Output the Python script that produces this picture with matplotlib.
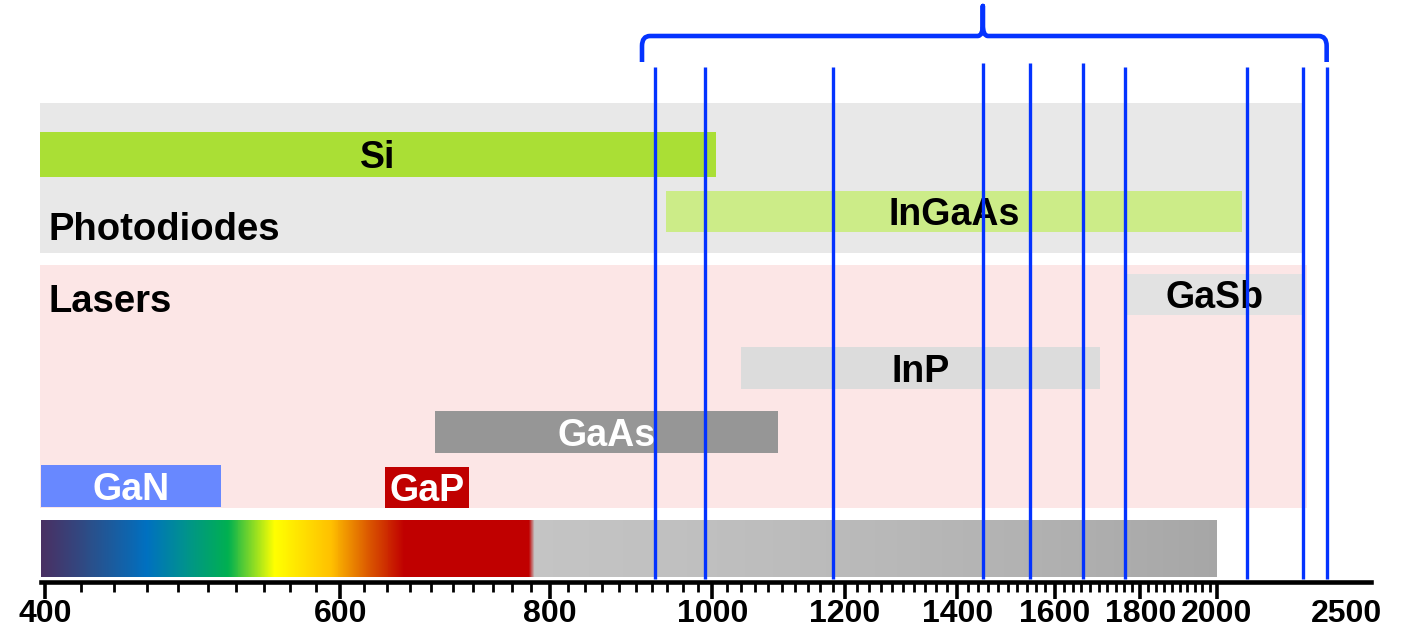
import numpy as np
import matplotlib
matplotlib.use('Agg')
from matplotlib import pyplot as plt
from matplotlib.path import Path
from matplotlib.patches import PathPatch
from matplotlib.colors import LinearSegmentedColormap, Normalize
from matplotlib.ticker import FixedLocator, NullFormatter

# photodiode materials (nm)
pd_names = ['Si', 'InGaAs']
pd_start = [397, 938]
pd_end = [1005, 2069]

# laser materials (nm)
laser_names = ['GaSb', 'InP', 'GaAs', 'GaN', 'GaP']
laser_start = [1765, 1040, 683, 398, 638]
laser_end = [2250, 1703, 1094, 509, 716]

# group backgrounds (nm)
pd_region = [397, 2256]
laser_region = [397, 2262]

# marked wavelengths (nm)
line_nm = [924, 990, 1180, 1450, 1547, 1663, 1762, 2083, 2250, 2325]

# axis
tick_major = [400, 600, 800, 1000, 1200, 1400, 1600, 1800, 2000]
tick_minor = [v for v in range(420, 2000, 20) if v not in tick_major]
axis_end = 2470
last_label = '2500'

# spectrum colour stops (nm, colour)
spec_nm = [398, 426, 460, 484, 514, 548, 592, 626, 655, 777, 783, 2000]
spec_col = ['#4a2f62', '#2a4f8a', '#0070c0', '#00918f', '#00b050', '#ffff00',
            '#ffc000', '#d85000', '#c00000', '#c00000', '#c4c4c4', '#a6a6a6']

# ---- layout (y in pixels from top) ----
pd_row = {'Si': (132, 177), 'InGaAs': (191, 232)}
laser_row = {'GaSb': (274, 315), 'InP': (347, 389), 'GaAs': (411, 453),
             'GaN': (465, 507), 'GaP': (467, 508)}
colors = {'Si': '#aadf35', 'InGaAs': '#ccec88', 'GaSb': '#e2e2e2',
          'InP': '#dcdcdc', 'GaAs': '#969696', 'GaN': '#6888ff', 'GaP': '#c00000'}
text_col = {'Si': 'black', 'InGaAs': 'black', 'GaSb': 'black', 'InP': 'black',
            'GaAs': 'white', 'GaN': 'white', 'GaP': 'white'}
line_top = [67, 67, 67, 63, 63, 63, 67, 67, 67, 67]
blue = '#0433ff'

plt.rcParams['font.family'] = 'Liberation Sans'
plt.rcParams['font.weight'] = 'bold'

fig = plt.figure(figsize=(14.03, 6.36), dpi=100)
ax = fig.add_axes([0, 0, 1, 1])
ax.set_xscale('log')
ax.set_xlim(376, 2582)
ax.set_ylim(636, 0)


def hbar(start, end, top, bottom, color, z):
    ax.barh((top + bottom) / 2, end - start, left=start, height=bottom - top,
            color=color, linewidth=0, zorder=z)


# backgrounds
hbar(pd_region[0], pd_region[1], 103, 253, '#e8e8e8', 0)
hbar(laser_region[0], laser_region[1], 265, 508, '#fce6e6', 0)

ax.text(401.7, 240, 'Photodiodes', fontsize=27.5, ha='left', va='baseline', zorder=2)
ax.text(401.7, 312, 'Lasers', fontsize=27.5, ha='left', va='baseline', zorder=2)

names = pd_names + laser_names
starts = pd_start + laser_start
ends = pd_end + laser_end
rows = {**pd_row, **laser_row}
for name, s, e in zip(names, starts, ends):
    top, bottom = rows[name]
    hbar(s, e, top, bottom, colors[name], 1)
    ax.text(np.sqrt(s * e), (top + bottom) / 2 + 13.5, name, fontsize=27,
            color=text_col[name], ha='center', va='baseline', zorder=2)

# spectrum strip
edges = np.geomspace(spec_nm[0], spec_nm[-1], 1200)
mids = np.sqrt(edges[:-1] * edges[1:])
norm = Normalize(spec_nm[0], spec_nm[-1])
cmap = LinearSegmentedColormap.from_list(
    'spec', [((v - spec_nm[0]) / (spec_nm[-1] - spec_nm[0]), c) for v, c in zip(spec_nm, spec_col)],
    N=8192)
ax.pcolormesh(edges, [520, 577], mids[None, :], cmap=cmap, norm=norm,
              shading='flat', antialiased=False, zorder=1)

# blue marker lines
ax.vlines(line_nm, line_top, 579, color=blue, linewidth=2.4, zorder=3)

# brace over the lines
left, right, tip = 908, line_nm[-1], line_nm[3]
k, k2 = 1.011, 1.007
verts = [(left, 62), (left, 46), (left, 36), (left * k, 36),
         (tip / k2, 36), (tip, 36), (tip, 24), (tip, 6),
         (tip, 24), (tip, 36), (tip * k2, 36),
         (right / k, 36), (right, 36), (right, 46), (right, 62)]
codes = [Path.MOVETO, Path.LINETO, Path.CURVE3, Path.CURVE3,
         Path.LINETO, Path.CURVE3, Path.CURVE3, Path.LINETO,
         Path.LINETO, Path.CURVE3, Path.CURVE3,
         Path.LINETO, Path.CURVE3, Path.CURVE3, Path.LINETO]
ax.add_patch(PathPatch(Path(verts, codes), facecolor='none', edgecolor=blue,
                       linewidth=3.3, capstyle='butt', joinstyle='round', zorder=3))

# wavelength axis
for side in ['top', 'left', 'right']:
    ax.spines[side].set_visible(False)
ax.spines['bottom'].set_position(('data', 582))
ax.spines['bottom'].set_bounds(398, axis_end)
ax.spines['bottom'].set_linewidth(3.3)
ax.xaxis.set_major_locator(FixedLocator(tick_major))
ax.xaxis.set_major_formatter(lambda v, pos: '%d' % v)
ax.xaxis.set_minor_locator(FixedLocator(tick_minor))
ax.xaxis.set_minor_formatter(NullFormatter())
ax.tick_params(axis='x', which='major', direction='out', length=12, width=2.6,
               pad=0.5, labelsize=23)
ax.tick_params(axis='x', which='minor', direction='out', length=7, width=2.0)
ax.set_yticks([])
ax.text(2390, 599.5, last_label, fontsize=23, ha='center', va='top')

fig.savefig('out.png', dpi=100)
